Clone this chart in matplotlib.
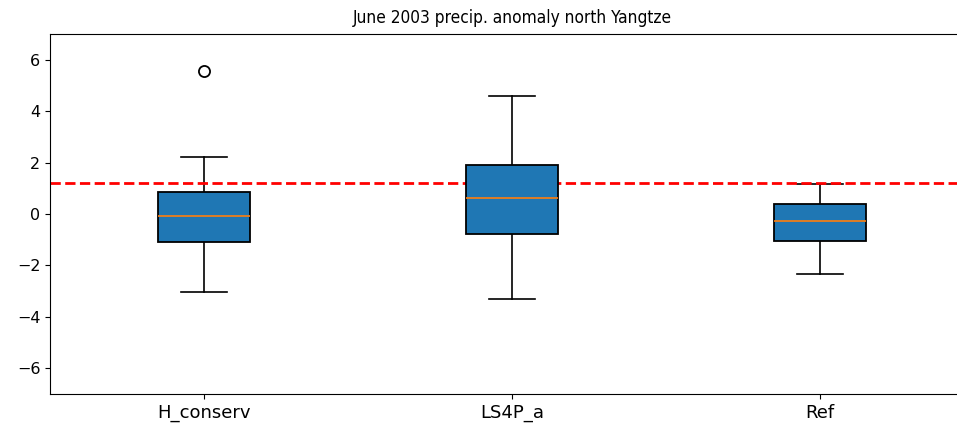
import matplotlib
matplotlib.use("Agg")
import matplotlib.pyplot as plt

# Box summary statistics for each experiment (mm/day anomaly)
labels = ["H_conserv", "LS4P_a", "Ref"]
whislo = [-3.02, -3.29, -2.34]
q1 = [-1.10, -0.77, -1.05]
med = [-0.08, 0.63, -0.28]
q3 = [0.87, 1.90, 0.39]
whishi = [2.21, 4.60, 1.18]
fliers = [[5.57], [], []]
obs_anomaly = 1.2

stats = []
for i, name in enumerate(labels):
    stats.append({
        "label": name,
        "whislo": whislo[i],
        "q1": q1[i],
        "med": med[i],
        "q3": q3[i],
        "whishi": whishi[i],
        "fliers": fliers[i],
    })

fig = plt.figure(figsize=(9.57, 4.25), dpi=100)
ax = fig.add_axes([50 / 957, 31 / 425, 924 / 957, 360 / 425])

# boxes sit above the reference line, caps/whiskers below it
ax.bxp(stats, widths=0.3, patch_artist=True,
       boxprops=dict(zorder=3, linewidth=1.3),
       medianprops=dict(zorder=3.1, linewidth=1.2),
       whiskerprops=dict(linewidth=1.2),
       capprops=dict(linewidth=1.2),
       flierprops=dict(markersize=8, markeredgewidth=1.3))
ax.axhline(obs_anomaly, color="r", linestyle="--", linewidth=2, zorder=2.5)

ax.set_ylim(-7, 7)
ax.set_xlim(0.5, 3.5)
ax.tick_params(axis="x", labelsize=13)
ax.tick_params(axis="y", labelsize=11.5)
ax.set_title("June 2003 precip. anomaly north Yangtze", fontsize=12.4,
             fontstretch="condensed", pad=8)

fig.savefig("out.png", dpi=100)
